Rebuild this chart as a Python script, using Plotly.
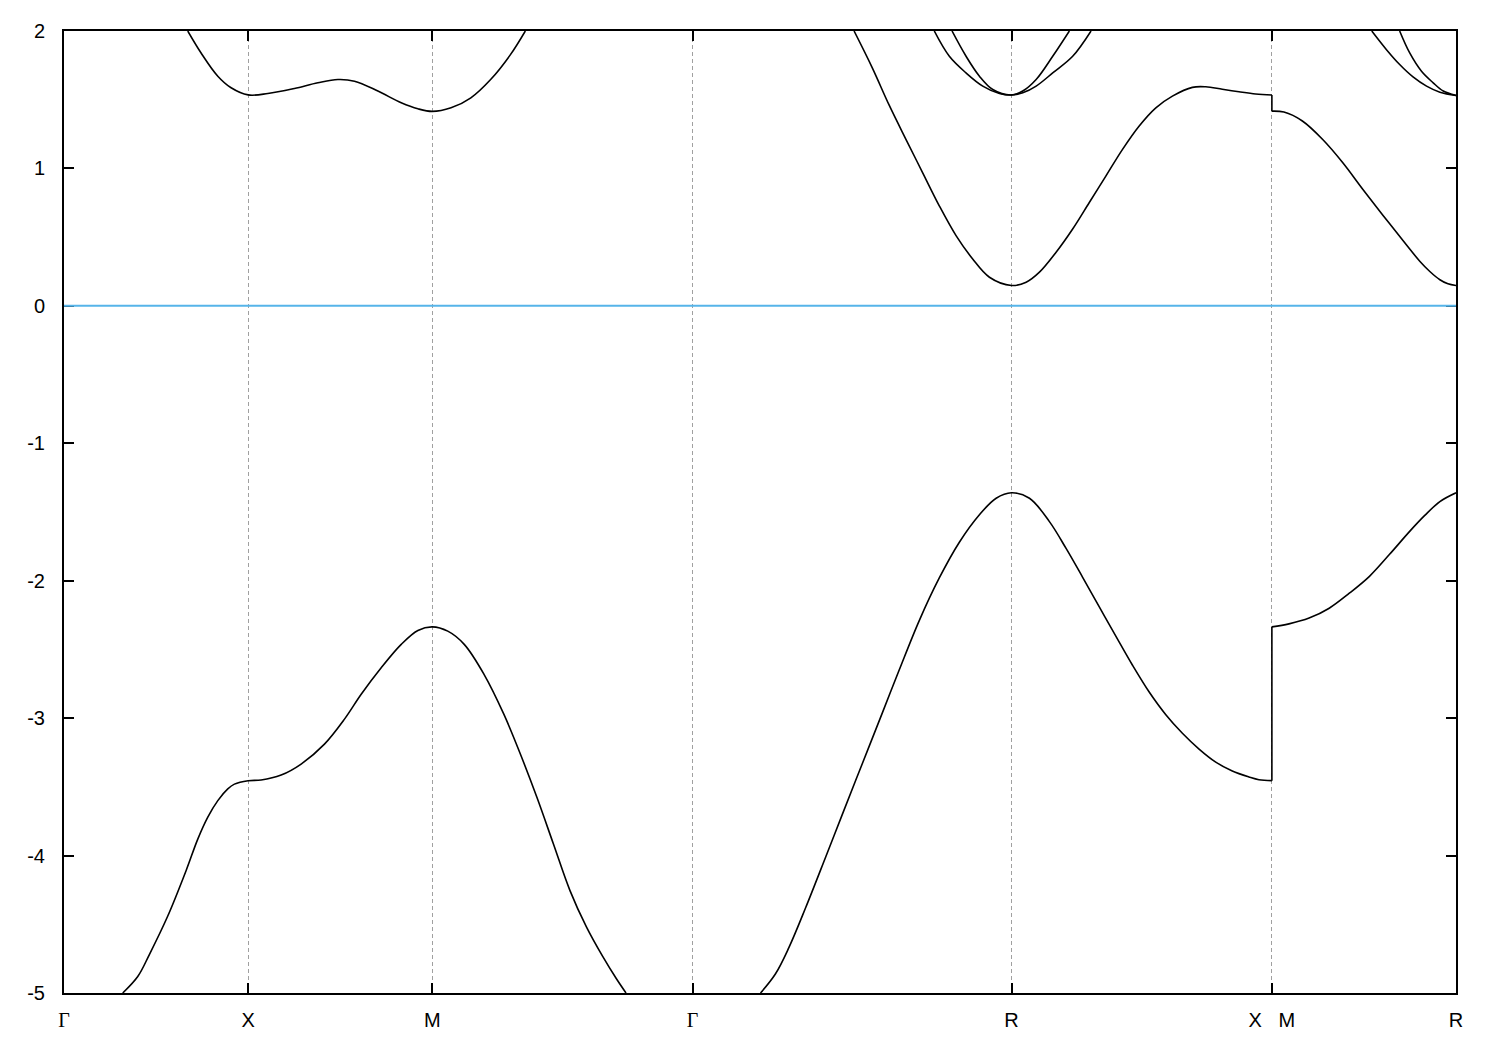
import plotly.graph_objects as go

# High-symmetry points along the k-path (path distance, cubic lattice units)
kpt_pos = [0.0, 0.5, 1.0, 1.7071, 2.5731, 3.2802, 3.7802]
kpt_lbl = ["Γ", "X", "M", "Γ", "R", "X M", "R"]

y_ticks = [2, 1, 0, -1, -2, -3, -4, -5]
y_ticktext = ["2", "1", "0", "-1", "-2", "-3", "-4", "-5"]

# Fermi level
fermi_k = [0.0, 3.7802]
fermi_e = [0.0, 0.0]

# Valence band (None = leaves the window)
val_k = [0.1595, 0.2003, 0.2318, 0.2818, 0.3315, 0.3633, 0.3905, 0.4177, 0.4448, 0.4628, 0.5,
         0.5353, 0.5897, 0.644, 0.7073, 0.7617, 0.8071, 0.8614, 0.9158, 0.9611, 1.0,
         1.0422, 1.0869, 1.1406, 1.1944, 1.2393, 1.2842, 1.3289, 1.3738, 1.4187, 1.4633, 1.4993, 1.5262,
         None,
         1.8915, 1.9323, 1.9685, 2.014, 2.0685, 2.1137, 2.1681, 2.2226, 2.2681, 2.3226, 2.377, 2.4315, 2.486, 2.5314, 2.5731,
         2.6219, 2.6761, 2.7213, 2.7663, 2.8115, 2.8568, 2.9017, 2.947, 2.9922, 3.0372, 3.0824, 3.1277, 3.1727, 3.2179, 3.245, 3.2802,
         3.2802, 3.3266, 3.3813, 3.4359, 3.4905, 3.5452, 3.5998, 3.6544, 3.6954, 3.7364, 3.7802]
val_e = [-5.0, -4.88, -4.72, -4.44, -4.11, -3.88, -3.72, -3.60, -3.515, -3.48, -3.455,
         -3.450, -3.414, -3.334, -3.189, -3.007, -2.826, -2.633, -2.463, -2.362, -2.336,
         -2.367, -2.463, -2.681, -2.971, -3.261, -3.576, -3.914, -4.253, -4.519, -4.736, -4.893, -5.0,
         None,
         -5.0, -4.86, -4.67, -4.38, -4.01, -3.70, -3.33, -2.96, -2.65, -2.29, -1.98, -1.72, -1.52, -1.40, -1.36,
         -1.40, -1.57, -1.765, -1.975, -2.19, -2.405, -2.615, -2.81, -2.975, -3.11, -3.225, -3.32, -3.385, -3.428, -3.448, -3.455,
         -2.336, -2.314, -2.272, -2.20, -2.091, -1.968, -1.808, -1.641, -1.525, -1.424, -1.36]

# Lowest conduction band
c1_k = [0.3361, 0.3723, 0.4177, 0.4538, 0.5,
        0.5535, 0.6258, 0.6894, 0.7438, 0.7889, 0.8524, 0.9158, 0.9611, 1.0,
        1.0511, 1.1049, 1.1586, 1.2124, 1.2528,
        None,
        2.1456, 2.1954, 2.2409, 2.2864, 2.3316, 2.377, 2.4225, 2.4677, 2.5132, 2.5731,
        2.6129, 2.649, 2.6942, 2.7392, 2.7844, 2.8297, 2.8746, 2.9199, 2.9651, 3.0101, 3.0643, 3.1006, 3.1456, 3.1908, 3.2361, 3.2802,
        3.2802, 3.313, 3.363, 3.4176, 3.4723, 3.5269, 3.5816, 3.6362, 3.6818, 3.7091, 3.7365, 3.7583, 3.7802]
c1_e = [2.0, 1.84, 1.671, 1.587, 1.535,
        1.545, 1.582, 1.623, 1.647, 1.635, 1.563, 1.478, 1.434, 1.415,
        1.441, 1.514, 1.647, 1.828, 2.0,
        None,
        2.0, 1.73, 1.46, 1.212, 0.970, 0.728, 0.511, 0.341, 0.208, 0.148,
        0.172, 0.245, 0.39, 0.559, 0.752, 0.946, 1.139, 1.309, 1.441, 1.526, 1.590, 1.594, 1.576, 1.558, 1.542, 1.534,
        1.417, 1.41, 1.345, 1.212, 1.043, 0.849, 0.66, 0.475, 0.325, 0.25, 0.19, 0.16, 0.148]

# Second conduction band
c2_k = [2.3634, 2.4043, 2.4497, 2.495, 2.5404, 2.5731, 2.6037, 2.64, 2.685, 2.7392, 2.789,
        None,
        3.5515, 3.5909, 3.6272, 3.6635, 3.7002, 3.7365, 3.7802]
c2_e = [2.0, 1.816, 1.695, 1.599, 1.545, 1.534, 1.55, 1.599, 1.695, 1.816, 2.0,
        None,
        2.0, 1.866, 1.756, 1.666, 1.599, 1.555, 1.531]

# Third conduction band
c3_k = [2.4116, 2.4497, 2.486, 2.5222, 2.5731, 2.6037, 2.64, 2.685, 2.7302,
        None,
        3.6272, 3.6545, 3.6865, 3.7182, 3.7455, 3.7802]
c3_e = [2.0, 1.816, 1.671, 1.574, 1.534, 1.563, 1.647, 1.816, 2.0,
        None,
        2.0, 1.84, 1.707, 1.623, 1.563, 1.531]

fig = go.Figure()

LINE = dict(color="black", width=1.6)

fig.add_trace(go.Scatter(x=fermi_k, y=fermi_e, mode="lines",
                         line=dict(color="#56b4e9", width=2),
                         showlegend=False, hoverinfo="skip"))


def add_band(ks, es):
    # split into visible pieces; draw vertical jumps (repeated k) as straight segments
    pieces, cur = [], []
    for k, e in zip(ks, es):
        if k is None:
            if cur:
                pieces.append(cur)
            cur = []
        else:
            cur.append((k, e))
    if cur:
        pieces.append(cur)
    for p in pieces:
        seg = [p[0]]
        for a, b in zip(p[:-1], p[1:]):
            if a[0] == b[0]:
                fig.add_trace(go.Scatter(x=[q[0] for q in seg], y=[q[1] for q in seg], mode="lines",
                                         line=dict(shape="spline", smoothing=1, **LINE),
                                         showlegend=False, hoverinfo="skip"))
                fig.add_trace(go.Scatter(x=[a[0], b[0]], y=[a[1], b[1]], mode="lines", line=LINE,
                                         showlegend=False, hoverinfo="skip"))
                seg = [b]
            else:
                seg.append(b)
        fig.add_trace(go.Scatter(x=[q[0] for q in seg], y=[q[1] for q in seg], mode="lines",
                                 line=dict(shape="spline", smoothing=1, **LINE),
                                 showlegend=False, hoverinfo="skip"))


for ks, es in [(val_k, val_e), (c1_k, c1_e), (c2_k, c2_e), (c3_k, c3_e)]:
    add_band(ks, es)

tick_text = []
for t in kpt_lbl:
    if t == "Γ":
        tick_text.append('<span style="font-family:\'Liberation Serif\', serif">Γ</span>')
    elif t == "X M":
        tick_text.append("X\u00a0\u00a0\u00a0M")
    else:
        tick_text.append(t)

fig.update_layout(
    width=1500, height=1050,
    margin=dict(l=56, r=52, t=19, b=65),
    paper_bgcolor="white", plot_bgcolor="white",
    font=dict(family="Liberation Sans, Arial, sans-serif", size=20, color="black"),
    showlegend=False,
)
fig.update_xaxes(
    range=[kpt_pos[0], kpt_pos[-1]],
    tickmode="array", tickvals=kpt_pos, ticktext=tick_text,
    ticks="inside", ticklen=10, tickwidth=2, tickcolor="black",
    showline=True, linecolor="black", linewidth=2, mirror="ticks",
    showgrid=True, gridcolor="#a0a0a0", gridwidth=1, griddash="4px,3px",
    zeroline=False, ticklabelstandoff=8, layer="below traces",
)
fig.update_yaxes(
    range=[-5, 2],
    tickmode="array", tickvals=y_ticks, ticktext=y_ticktext,
    ticks="inside", ticklen=10, tickwidth=2, tickcolor="black",
    showline=True, linecolor="black", linewidth=2, mirror="ticks",
    showgrid=False, zeroline=False,
    ticklabelstandoff=13, layer="below traces",
)

fig.write_html("out.html")
